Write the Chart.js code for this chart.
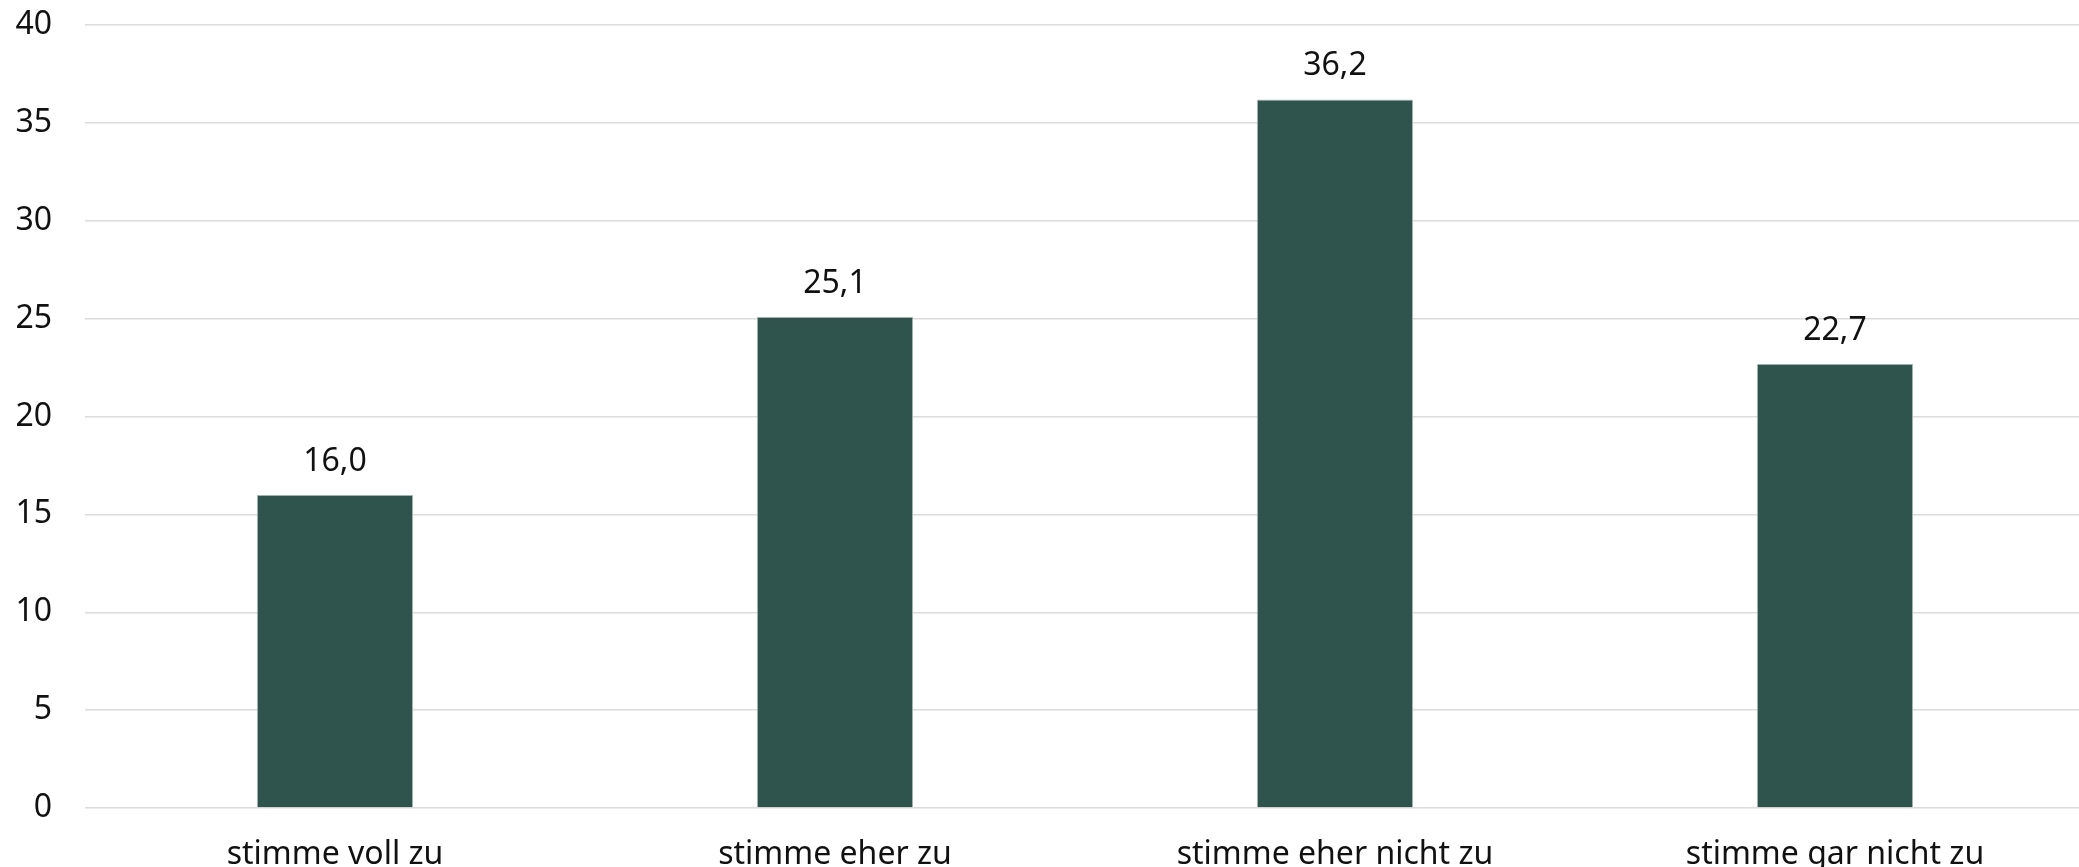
<!DOCTYPE html>
<html lang="de">
<head>
<meta charset="utf-8">
<title>Zustimmung</title>
<script src="https://cdn.jsdelivr.net/npm/chart.js@4/dist/chart.umd.min.js"></script>
<style>
    html, body { margin: 0; padding: 0; background: #fff; overflow: hidden; }
    .wrap { position: relative; width: 2085px; height: 880px; }
</style>
</head>
<body>
<div class="wrap"><canvas id="chart"></canvas></div>
<script>
'use strict';

// ===== DONNÉES =====
const categories = ['stimme voll zu', 'stimme eher zu', 'stimme eher nicht zu', 'stimme gar nicht zu'];
const values = [16.0, 25.1, 36.2, 22.7];
const yTicks = [0, 5, 10, 15, 20, 25, 30, 35, 40];

const FONT = '"Noto Sans", "DejaVu Sans", sans-serif';

// ===== ÉTIQUETTES AU-DESSUS DES BARRES =====
const valueLabels = {
    id: 'valueLabels',
    afterDatasetsDraw(chart) {
        const ctx = chart.ctx;
        const meta = chart.getDatasetMeta(0);
        ctx.save();
        ctx.font = '32px ' + FONT;
        ctx.fillStyle = '#111';
        ctx.textAlign = 'center';
        ctx.textBaseline = 'alphabetic';
        meta.data.forEach(function(bar, i) {
            const txt = values[i].toFixed(1).replace('.', ',');
            ctx.fillText(txt, bar.x, bar.y - 24);
        });
        ctx.restore();
    }
};

document.addEventListener('DOMContentLoaded', function() {
    const canvas = document.getElementById('chart');
    new Chart(canvas, {
        type: 'bar',
        data: {
            labels: categories,
            datasets: [{
                data: values,
                backgroundColor: '#2f544d',
                borderColor: '#b9c4c1',
                borderWidth: 1,
                categoryPercentage: 1,
                barPercentage: 0.313
            }]
        },
        options: {
            responsive: true,
            maintainAspectRatio: false,
            animation: false,
            layout: { padding: { top: 25, left: 0, right: 0, bottom: 0 }, autoPadding: false },
            plugins: {
                legend: { display: false },
                tooltip: { enabled: false }
            },
            scales: {
                x: {
                    grid: { display: false },
                    border: { display: false },
                    afterFit(scale) { scale.height = 72; },
                    ticks: {
                        color: '#111',
                        font: { family: FONT, size: 32 },
                        padding: 20,
                        maxRotation: 0
                    }
                },
                y: {
                    min: 0,
                    max: 40,
                    afterBuildTicks(axis) {
                        axis.ticks = yTicks.map(function(v) { return { value: v }; });
                    },
                    afterFit(scale) {
                        scale.width = 85;
                        scale.paddingTop = 0;
                        scale.paddingBottom = 0;
                    },
                    grid: { color: '#dcdcdc', lineWidth: 1.5, drawTicks: false },
                    border: { display: false },
                    ticks: {
                        color: '#111',
                        font: { family: FONT, size: 32 },
                        padding: 33
                    }
                }
            }
        },
        plugins: [valueLabels]
    });
});
</script>
</body>
</html>
